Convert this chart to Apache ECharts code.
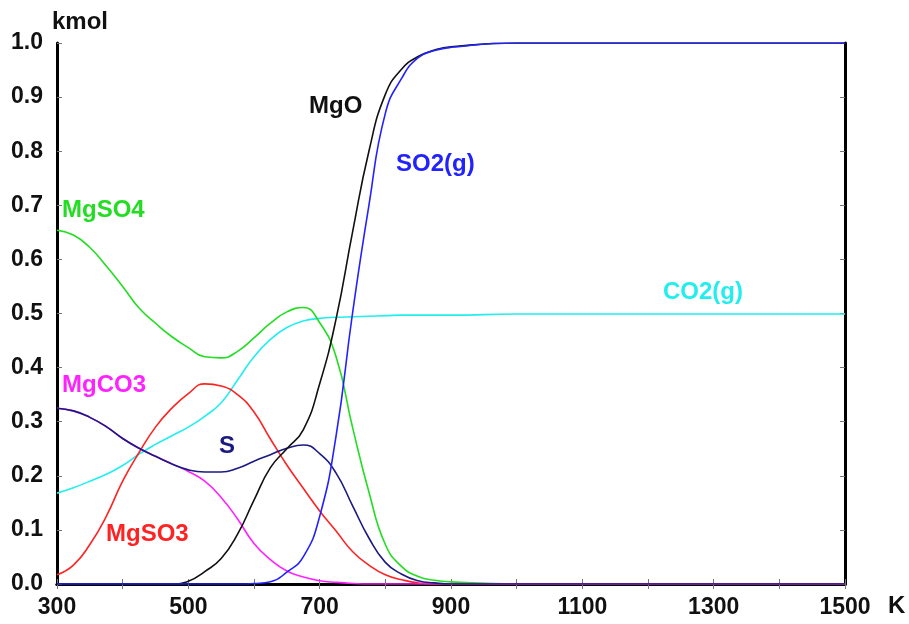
<!DOCTYPE html>
<html>
<head>
<meta charset="utf-8">
<script src="https://cdn.jsdelivr.net/npm/echarts@6/dist/echarts.min.js"></script>
<style>
    html, body { margin: 0; padding: 0; background: #fff; }
    #container { width: 909px; height: 624px; }
</style>
</head>
<body>
<div id="container"></div>
<script>
// temperature (K)
var temps = [300, 325, 350, 375, 400, 425, 450, 475, 500, 525, 550, 575, 600, 625, 650, 675, 700,
             725, 750, 775, 800, 825, 850, 875, 900, 1000, 1100, 1200, 1300, 1400, 1500];

// amounts (kmol)
var mgso4 = [0.654, 0.645, 0.622, 0.588, 0.55, 0.51, 0.482, 0.457, 0.437, 0.42, 0.418, 0.43, 0.455, 0.482, 0.503, 0.511, 0.483,
             0.42, 0.29, 0.17, 0.073, 0.032, 0.014, 0.007, 0.004, 0, 0, 0, 0, 0, 0];
var co2 = [0.168, 0.178, 0.19, 0.203, 0.219, 0.24, 0.258, 0.274, 0.29, 0.31, 0.335, 0.377, 0.42, 0.452, 0.474, 0.486, 0.491,
           0.493, 0.494, 0.495, 0.496, 0.497, 0.497, 0.497, 0.497, 0.499, 0.499, 0.499, 0.499, 0.499, 0.499];
var mgso3 = [0.017, 0.035, 0.073, 0.125, 0.19, 0.243, 0.29, 0.325, 0.352, 0.37, 0.366, 0.35, 0.318, 0.268, 0.22, 0.177, 0.135,
             0.098, 0.06, 0.035, 0.017, 0.008, 0.002, 0, 0, 0, 0, 0, 0, 0, 0];
var mgco3 = [0.325, 0.32, 0.308, 0.291, 0.269, 0.251, 0.236, 0.222, 0.208, 0.19, 0.16, 0.12, 0.075, 0.045, 0.024, 0.013, 0.006,
             0.003, 0.001, 0, 0, 0, 0, 0, 0, 0, 0, 0, 0, 0, 0];
var s = [0.325, 0.32, 0.308, 0.291, 0.269, 0.251, 0.236, 0.222, 0.211, 0.207, 0.207, 0.214, 0.227, 0.239, 0.251, 0.257, 0.241,
         0.205, 0.145, 0.085, 0.04, 0.018, 0.006, 0.002, 0, 0, 0, 0, 0, 0, 0];
var mgo = [0, 0, 0, 0, 0, 0, 0, 0, 0.005, 0.023, 0.047, 0.092, 0.155, 0.215, 0.25, 0.285, 0.37,
           0.49, 0.65, 0.8, 0.905, 0.952, 0.975, 0.987, 0.993, 1, 1, 1, 1, 1, 1];
var so2 = [0, 0, 0, 0, 0, 0, 0, 0, 0, 0, 0, 0, 0.001, 0.004, 0.022, 0.05, 0.125,
           0.274, 0.5, 0.7, 0.87, 0.935, 0.973, 0.986, 0.992, 1, 1, 1, 1, 1, 1];

var xLabels = [300, 500, 700, 900, 1100, 1300, 1500];

function pairs(vals) {
    var out = [];
    for (var i = 0; i < temps.length; i++) out.push([temps[i], vals[i]]);
    return out;
}

function line(name, vals, color) {
    return {
        name: name,
        type: 'line',
        data: pairs(vals),
        smooth: 0.5,
        symbol: 'none',
        lineStyle: { color: color, width: 1.6 },
        z: 3
    };
}

function label(text, x, y, color) {
    return {
        type: 'text',
        left: x,
        top: y,
        style: { text: text, fill: color, font: 'bold 24px "Liberation Sans", Arial, sans-serif' }
    };
}

var myChart = echarts.init(document.getElementById('container'));
var axisLine = { show: true, lineStyle: { color: '#000', width: 3 } };
var tick = { show: true, inside: true, length: 5, lineStyle: { color: '#777', width: 1 } };
var labelFont = { color: '#111', fontSize: 23, fontWeight: 'bold', fontFamily: '"Liberation Sans", Arial, sans-serif' };

var option = {
    animation: false,
    backgroundColor: '#fff',
    grid: { left: 57, right: 64, top: 43, bottom: 40 },
    xAxis: [
        {
            type: 'value', min: 300, max: 1500, interval: 100,
            axisLine: axisLine, axisTick: tick, splitLine: { show: false },
            axisLabel: Object.assign({
                margin: 12,
                formatter: function (v) { return xLabels.indexOf(v) >= 0 ? String(v) : ''; }
            }, labelFont)
        },
        {
            type: 'value', position: 'top', min: 300, max: 1500, interval: 100,
            axisLine: axisLine, axisTick: tick, splitLine: { show: false }, axisLabel: { show: false }
        }
    ],
    yAxis: [
        {
            type: 'value', min: 0, max: 1, interval: 0.1,
            axisLine: axisLine, axisTick: tick, splitLine: { show: false },
            axisLabel: Object.assign({
                margin: 14,
                formatter: function (v) { return v.toFixed(1); }
            }, labelFont)
        },
        {
            type: 'value', position: 'right', min: 0, max: 1, interval: 0.1,
            axisLine: axisLine, axisTick: tick, splitLine: { show: false }, axisLabel: { show: false }
        }
    ],
    series: [
        line('CO2(g)', co2, '#22eeee'),
        line('MgSO4', mgso4, '#22dd22'),
        line('MgSO3', mgso3, '#ff2222'),
        line('MgCO3', mgco3, '#ff22ff'),
        line('S', s, '#1a1a80'),
        line('MgO', mgo, '#111111'),
        line('SO2(g)', so2, '#2222ff')
    ],
    graphic: [
        label('kmol', 52, 10, '#111'),
        label('K', 888, 594, '#111'),
        label('MgSO4', 62, 198, '#22dd22'),
        label('MgCO3', 62, 373, '#ff22ff'),
        label('MgSO3', 106, 522, '#ff2222'),
        label('S', 219, 434, '#1a1a80'),
        label('MgO', 309, 94, '#111'),
        label('SO2(g)', 396, 152, '#2222ff'),
        label('CO2(g)', 663, 280, '#22eeee')
    ]
};
myChart.setOption(option);
</script>
</body>
</html>
